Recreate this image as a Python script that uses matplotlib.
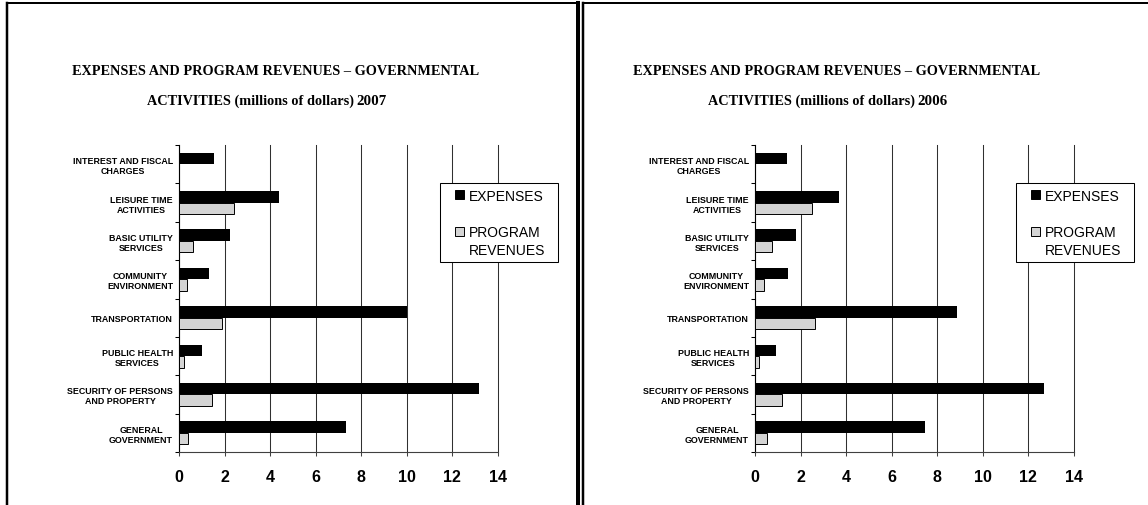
import numpy as np
import matplotlib
matplotlib.use('Agg')
import matplotlib.pyplot as plt
from matplotlib import font_manager
from matplotlib.legend_handler import HandlerBase
from matplotlib.lines import Line2D
from matplotlib.patches import Rectangle
from matplotlib.path import Path

# categories listed bottom to top
categories = ['GENERAL\nGOVERNMENT',
              'SECURITY OF PERSONS\nAND PROPERTY',
              'PUBLIC HEALTH\nSERVICES',
              'TRANSPORTATION',
              'COMMUNITY\nENVIRONMENT',
              'BASIC UTILITY\nSERVICES',
              'LEISURE TIME\nACTIVITIES',
              'INTEREST AND FISCAL\nCHARGES']

expenses_2007 = [7.35, 13.17, 1.01, 10.0, 1.32, 2.24, 4.37, 1.53]
revenues_2007 = [0.41, 1.43, 0.20, 1.87, 0.34, 0.60, 2.41, 0]
expenses_2006 = [7.48, 12.69, 0.93, 8.86, 1.45, 1.81, 3.69, 1.40]
revenues_2006 = [0.52, 1.20, 0.17, 2.63, 0.41, 0.73, 2.50, 0]

x_ticks = [0, 2, 4, 6, 8, 10, 12, 14]
series_names = ['EXPENSES', 'PROGRAM\nREVENUES']
title_line1 = 'EXPENSES AND PROGRAM REVENUES \u2013 GOVERNMENTAL'
title_line2 = 'ACTIVITIES (millions of dollars)'

W, H = 1148, 506
LINESPACING = 1.35

installed = {f.name for f in font_manager.fontManager.ttflist}
if 'Liberation Sans Narrow' in installed:
    cat_font = dict(family='Liberation Sans Narrow', size=7.5, weight='bold')
else:
    cat_font = dict(family='Liberation Sans', size=6.4, weight='bold')


class SquareHandler(HandlerBase):
    """small square at the right end of the handle box, lifted to the first text line"""
    def __init__(self, lift=0.0):
        super().__init__()
        self.lift = lift

    def create_artists(self, legend, orig_handle, xdescent, ydescent,
                       width, height, fontsize, trans):
        side = 0.65 * fontsize
        x = -xdescent + width - side
        y = -ydescent + (height - side) / 2 + self.lift * fontsize
        sq = Rectangle((x, y), side, side,
                       facecolor=orig_handle[0].get_facecolor(),
                       edgecolor='black', linewidth=0.7, transform=trans)
        return [sq]


def legend_frame(x0, y0, width, height, mutation_size):
    # a bit of extra room to the right of the labels
    extra = 7
    return Path([(x0, y0), (x0 + width + extra, y0),
                 (x0 + width + extra, y0 + height), (x0, y0 + height),
                 (x0, y0)], closed=True)


def draw_panel(ax, expenses, revenues):
    y = np.arange(len(categories))
    exp_bars = ax.barh(y + 0.15, expenses, height=0.3, color='black', zorder=3)
    rev_bars = ax.barh(y - 0.15, revenues, height=0.3, color='#d4d4d4',
                       edgecolor='black', linewidth=0.7, zorder=3)

    ax.set_xlim(0, 14)
    ax.set_ylim(-0.5, len(categories) - 0.5)
    ax.set_xticks(x_ticks)
    ax.set_yticks(y)
    ax.set_yticklabels(categories)
    ax.set_yticks(np.arange(-0.5, len(categories), 1), minor=True)

    ax.grid(axis='x', color='#303030', linewidth=0.75, zorder=1)
    for gl in ax.xaxis.get_gridlines():
        gl.set_clip_on(False)
    ax.set_axisbelow(True)
    for s in ['top', 'right']:
        ax.spines[s].set_visible(False)
    ax.spines['left'].set_color('black')
    ax.spines['left'].set_linewidth(0.8)
    ax.spines['bottom'].set_color('#404040')
    ax.spines['bottom'].set_linewidth(0.8)

    ax.tick_params(axis='y', which='major', length=0, pad=4.3)
    ax.tick_params(axis='y', which='minor', length=3, width=0.75, direction='out')
    ax.tick_params(axis='x', length=3, width=0.75, color='#404040', pad=9)
    for lbl in ax.get_yticklabels():
        lbl.set(**cat_font)
        lbl.set_multialignment('center')
        lbl.set_linespacing(1.15)
    for lbl in ax.get_xticklabels():
        lbl.set(family='Liberation Sans', weight='bold', size=11.5)

    leg = ax.legend([exp_bars, rev_bars], series_names,
                    handler_map={exp_bars: SquareHandler(0.0),
                                 rev_bars: SquareHandler(0.5 * LINESPACING)},
                    loc='upper left', bbox_to_anchor=(261 / 319, 269 / 307),
                    borderaxespad=0, borderpad=0.4, handlelength=1.3,
                    handletextpad=0.36, labelspacing=1.6, fancybox=False,
                    framealpha=1, edgecolor='black',
                    prop={'family': 'Liberation Sans', 'size': 10})
    leg.get_frame().set_linewidth(0.75)
    leg.get_frame().set_boxstyle(legend_frame)
    for t in leg.get_texts():
        t.set_linespacing(LINESPACING)


def draw_title(fig, ax, center_px, right_px, year):
    fig.text(center_px / W, 1 - 75 / H, title_line1, ha='center', va='baseline',
             family='Liberation Serif', weight='bold', size=10.3)
    sub = fig.text(right_px / W, 1 - 105 / H, title_line2, ha='right', va='baseline',
                   family='Liberation Serif', weight='bold', size=10.3)
    ax.annotate(year, xy=(1, 0), xycoords=sub, xytext=(1.5, 0),
                textcoords='offset points', ha='left', va='bottom',
                family='Liberation Serif', weight='bold', size=10.8)


def frame_line(fig, xs, ys, width_px):
    fig.add_artist(Line2D([x / W for x in xs], [1 - y / H for y in ys],
                          transform=fig.transFigure, color='black',
                          linewidth=width_px * 0.72, solid_capstyle='projecting'))


fig = plt.figure(figsize=(W / 100, H / 100), dpi=100)
ax1 = fig.add_axes([179 / W, 53 / H, 319 / W, 307 / H])
ax2 = fig.add_axes([755 / W, 53 / H, 319 / W, 307 / H])

draw_panel(ax1, expenses_2007, revenues_2007)
draw_panel(ax2, expenses_2006, revenues_2006)
draw_title(fig, ax1, 276, 354, '2007')
draw_title(fig, ax2, 837, 915, '2006')

# page frames around the two panels
frame_line(fig, [7, 7], [4.3, 510], 2.5)
frame_line(fig, [7, 578], [4.3, 4.3], 2)
frame_line(fig, [578, 578], [4.3, 510], 4)
frame_line(fig, [582.5, 582.5], [4.3, 510], 2.5)
frame_line(fig, [582.5, 1150], [4.3, 4.3], 2)

fig.savefig('out.png', dpi=100)
